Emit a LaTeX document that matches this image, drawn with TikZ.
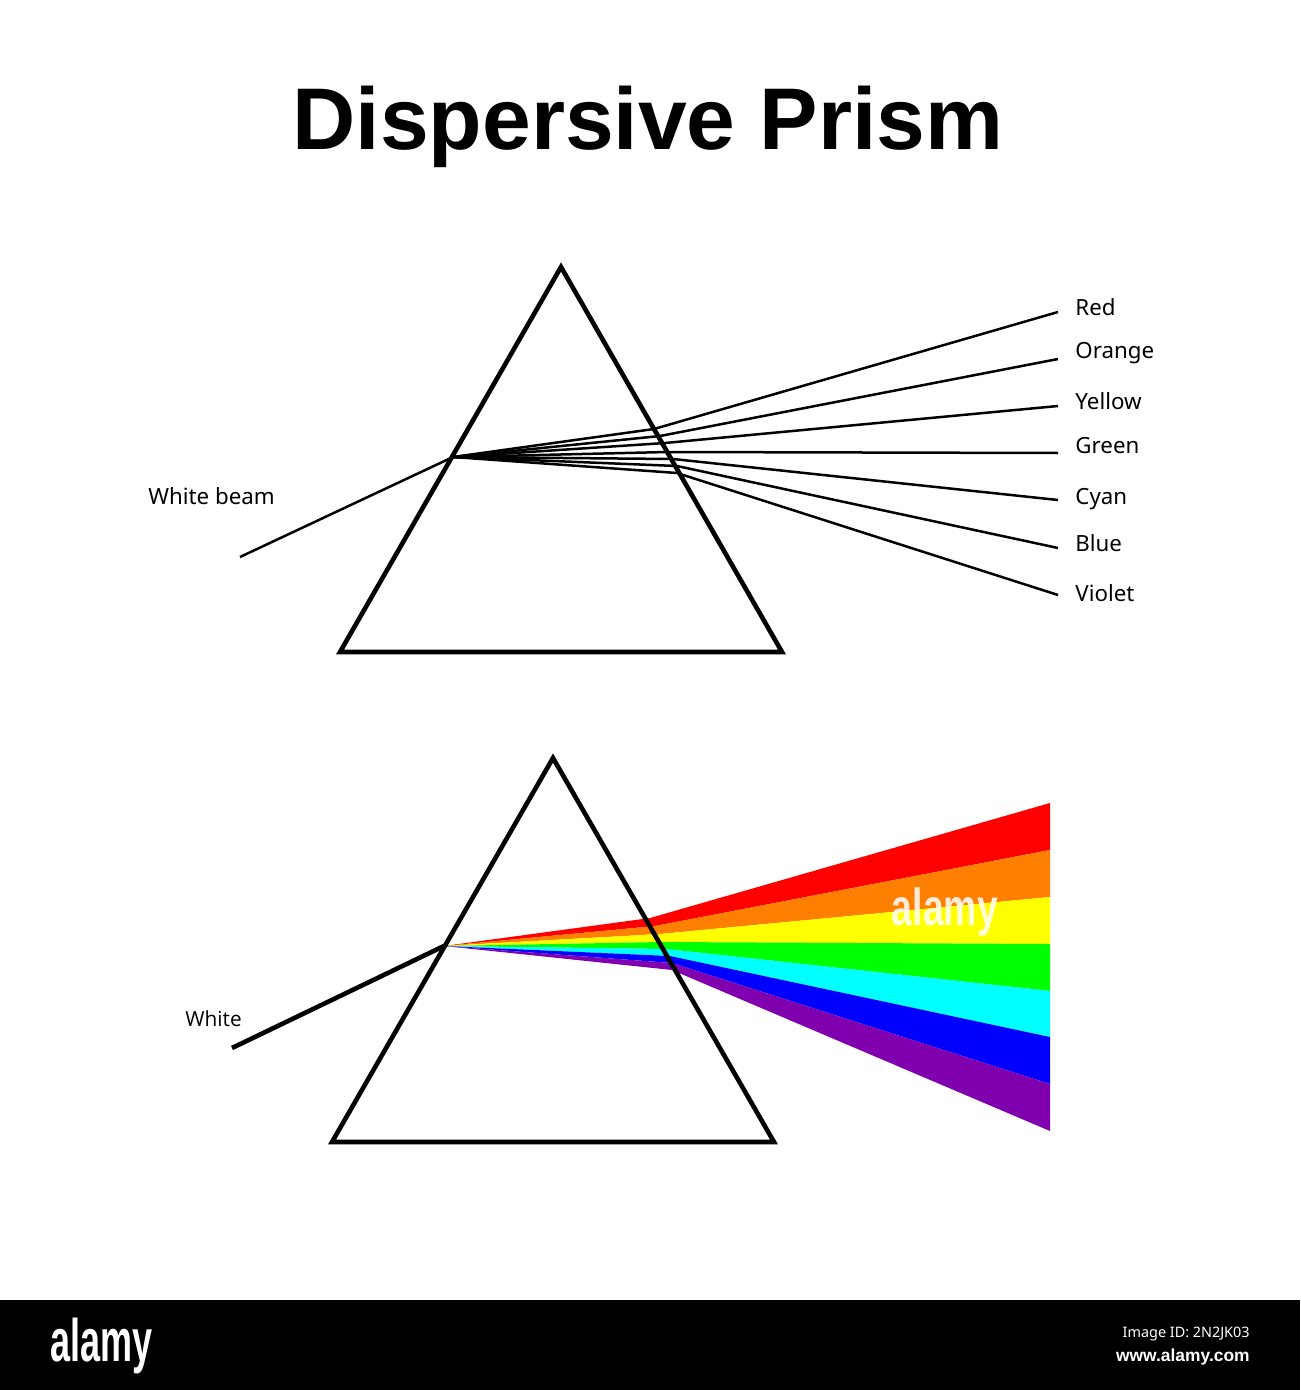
\documentclass[tikz,border=0pt]{standalone}
\usepackage{fontspec}
\setmainfont{Noto Sans}
\newfontfamily\whitefont{Open Sans}
\newfontfamily\heavyfont{Liberation Sans}[BoldFont={Liberation Sans Bold}]
\usetikzlibrary{calc}
\definecolor{rRed}{HTML}{FF0000}
\definecolor{rOrange}{HTML}{FF8000}
\definecolor{rYellow}{HTML}{FFFF00}
\definecolor{rGreen}{HTML}{00FF00}
\definecolor{rCyan}{HTML}{00FFFF}
\definecolor{rBlue}{HTML}{0000FF}
\definecolor{rViolet}{HTML}{8000B0}
\tikzset{
  prism/.style={draw=black,line width=2.3pt,line join=miter,fill=none},
  ray/.style={draw=black,line width=1.25pt},
  whiteray/.style={draw=black,line width=2.3pt},
  lbl/.style={anchor=base west,inner sep=0pt,font=\fontsize{11.15pt}{14pt}\selectfont},
  band/.style={draw=none},
}
\begin{document}
\begin{tikzpicture}[x=0.5pt,y=-0.5pt]
\useasboundingbox (0,0) rectangle (1300,1390);
\fill[white] (0,0) rectangle (1300,1390);
\node[anchor=base,inner sep=0pt,font=\heavyfont\bfseries\fontsize{43.8pt}{52pt}\selectfont] (title) at (648,150) {Dispersive Prism};

% upper prism
\coordinate (A1) at (561,267);
\coordinate (B1) at (340,652);
\coordinate (C1) at (782,652);
\coordinate (O1) at (453,457);
\coordinate (W1) at (240,557);
\foreach \n/\ex/\ey/\fy in {a/654/429/312,b/660/436/359,c/665/443/406,d/668/452/453,e/673/459/500,f/677/466/548,g/677/473/595}{
  \coordinate (x\n) at (\ex,\ey);
  \coordinate (f\n) at (1058,\fy);
  \draw[ray] (O1) -- (x\n) -- (f\n);
}
\draw[ray] (W1) -- (O1);
\draw[prism] (A1) -- (C1) -- (B1) -- cycle;

\node[lbl] (lred) at (1075,315) {Red};
\node[lbl] (lorange) at (1075,358) {Orange};
\node[lbl] (lyellow) at (1075,409) {Yellow};
\node[lbl] (lgreen) at (1075,453) {Green};
\node[lbl] (lcyan) at (1075,504) {Cyan};
\node[lbl] (lblue) at (1075,551) {Blue};
\node[lbl] (lviolet) at (1075,601) {Violet};
\node[lbl] (lwb) at (148,504) {White beam};

% lower prism
\coordinate (A2) at (553,758);
\coordinate (B2) at (332,1142);
\coordinate (C2) at (774,1142);
\coordinate (O2) at (444,946);
\coordinate (W2) at (232,1048);
\coordinate (k0) at (650,918);
\coordinate (k1) at (655,926);
\coordinate (k2) at (660,934);
\coordinate (k3) at (662,942);
\coordinate (k4) at (666,949);
\coordinate (k5) at (670,956);
\coordinate (k6) at (672,963);
\coordinate (k7) at (672,970);
\coordinate (e0) at (1050,803);
\coordinate (e1) at (1050,850);
\coordinate (e2) at (1050,897);
\coordinate (e3) at (1050,944);
\coordinate (e4) at (1050,991);
\coordinate (e5) at (1050,1037);
\coordinate (e6) at (1050,1084);
\coordinate (e7) at (1050,1131);
\fill[band,rRed] (O2) -- (k0) -- (e0) -- (e1) -- (k1) -- cycle;
\fill[band,rOrange] (O2) -- (k1) -- (e1) -- (e2) -- (k2) -- cycle;
\fill[band,rYellow] (O2) -- (k2) -- (e2) -- (e3) -- (k3) -- cycle;
\fill[band,rGreen] (O2) -- (k3) -- (e3) -- (e4) -- (k4) -- cycle;
\fill[band,rCyan] (O2) -- (k4) -- (e4) -- (e5) -- (k5) -- cycle;
\fill[band,rBlue] (O2) -- (k5) -- (e5) -- (e6) -- (k6) -- cycle;
\fill[band,rViolet] (O2) -- (k6) -- (e6) -- (e7) -- (k7) -- cycle;
\draw[whiteray] (W2) -- (O2);
\draw[prism] (A2) -- (C2) -- (B2) -- cycle;
\node[anchor=base west,inner sep=0pt,font=\whitefont\fontsize{10.4pt}{13pt}\selectfont] (lw) at (185,1026) {White};

% watermark on the rainbow
\node[anchor=base,inner sep=0pt,text=white,opacity=0.85,font=\heavyfont\bfseries\fontsize{26pt}{30pt}\selectfont,xscale=0.72] (wm) at (945,925) {alamy};

% footer
\fill[black] (0,1300) rectangle (1300,1390);
\node[anchor=base west,inner sep=0pt,text=white,font=\heavyfont\bfseries\fontsize{30pt}{33pt}\selectfont,xscale=0.6] (alamy) at (50,1361) {alamy};
\node[anchor=base east,inner sep=0pt,text=white,font=\fontsize{7.2pt}{10pt}\selectfont] (imgid) at (1250,1337) {Image ID: 2N2JK03};
\node[anchor=base east,inner sep=0pt,text=white,font=\heavyfont\bfseries\fontsize{8.7pt}{10pt}\selectfont] (www) at (1250,1361) {www.alamy.com};
\end{tikzpicture}
\end{document}
